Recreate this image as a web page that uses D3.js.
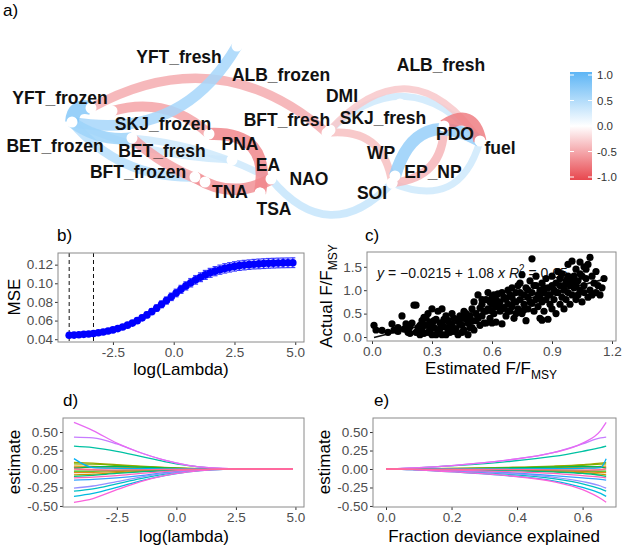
<!DOCTYPE html>
<html>
<head>
<meta charset="utf-8">
<script src="https://cdn.jsdelivr.net/npm/d3@7"></script>
<style>
body { margin: 0; background: #fff; }
text { font-family: "Liberation Sans", Arial, sans-serif; }
</style>
</head>
<body>
<script>
// ---------- données panneau a (réseau de corrélations)
const nodeNames = ["YFT_fresh","ALB_frozen","ALB_fresh","YFT_frozen","DMI","BFT_fresh","SKJ_fresh","SKJ_frozen","BET_frozen","BET_fresh","PNA","EA","NAO","BFT_frozen","TNA","TSA","WP","PDO","fuel","EP_NP","SOI"];
const nodeX = [2.37,2.09,3.98,0.91,3.30,3.27,4.00,1.12,0.72,1.32,2.32,2.71,2.60,1.95,2.05,2.60,3.92,4.44,4.80,3.95,3.92];
const nodeY = [1.84,0.96,1.52,1.22,1.00,0.97,1.26,1.19,1.08,0.92,0.70,0.51,0.37,0.53,0.48,0.37,0.47,1.04,0.89,0.54,0.47];
const labelX = [1.79,2.81,4.41,0.60,3.42,2.87,3.83,1.63,0.55,1.62,2.40,2.68,3.09,1.38,2.30,2.74,3.81,4.55,5.00,4.33,3.72];
const labelY = [1.73,1.55,1.65,1.32,1.34,1.10,1.12,1.06,0.84,0.79,0.86,0.65,0.51,0.58,0.38,0.21,0.77,0.96,0.82,0.58,0.37];

const edgeFrom = ["YFT_fresh","BET_frozen","BET_frozen","YFT_frozen","YFT_frozen","SKJ_frozen","BET_fresh","ALB_frozen","BFT_frozen","BET_fresh","EA","BFT_fresh","DMI","BFT_fresh","EP_NP","PDO","PDO","SOI","BET_frozen"];
const edgeTo   = ["BET_frozen","BFT_frozen","BET_fresh","BET_frozen","BFT_fresh","ALB_frozen","TNA","TSA","EA","EA","SOI","fuel","fuel","SOI","fuel","fuel","SOI","fuel","PNA"];
const edgeR    = [0.55,0.45,0.6,0.75,-0.45,-0.5,-0.5,-0.65,-0.6,0.3,0.35,0.3,-0.3,-0.35,0.65,-0.7,-0.4,0.3,0.3];
const edgeCurv = [-0.35,0.24,0.2,0.6,-0.35,-0.28,0.1,-0.63,0.3,-0.1,0.56,-0.53,-0.62,-0.48,-0.62,-0.74,-0.45,0.56,0.1];

const legendTicks = [1, 0.5, 0, -0.5, -1];

// ---------- panneau b (validation croisée)
const lamB = [-4.3,-4.1,-3.9,-3.7,-3.5,-3.3,-3.1,-2.9,-2.7,-2.5,-2.3,-2.1,-1.9,-1.7,-1.5,-1.3,-1.1,-0.9,-0.7,-0.5,-0.3,-0.1,0.1,0.3,0.5,0.7,0.9,1.1,1.3,1.5,1.7,1.9,2.1,2.3,2.5,2.7,2.9,3.1,3.3,3.5,3.7,3.9,4.1,4.3,4.5,4.7,4.9];
const mseB = [0.0442,0.0444,0.0448,0.0452,0.0456,0.0462,0.0469,0.0478,0.0488,0.0500,0.0514,0.0531,0.0551,0.0573,0.0599,0.0629,0.0661,0.0696,0.0734,0.0774,0.0815,0.0855,0.0896,0.0935,0.0972,0.1006,0.1037,0.1065,0.1090,0.1112,0.1130,0.1146,0.1160,0.1171,0.1181,0.1189,0.1195,0.1200,0.1205,0.1208,0.1211,0.1214,0.1216,0.1218,0.1219,0.1220,0.1221];
const seB  = [0.0012,0.0012,0.0013,0.0013,0.0014,0.0014,0.0015,0.0016,0.0017,0.0018,0.0019,0.0021,0.0022,0.0024,0.0026,0.0028,0.0030,0.0032,0.0034,0.0036,0.0038,0.0040,0.0041,0.0043,0.0044,0.0045,0.0046,0.0047,0.0048,0.0048,0.0049,0.0049,0.0050,0.0050,0.0050,0.0051,0.0051,0.0051,0.0051,0.0052,0.0052,0.0052,0.0052,0.0052,0.0052,0.0052,0.0052];
const lamMin = -4.3, lam1se = -3.3;

// ---------- panneau c (F/FMSY estimé vs réel)
const ffPairs = [[0.01,0.25],[0.02,0.15],[0.05,0.14],[0.08,0.10],[0.10,0.28],[0.11,0.15],[0.13,0.20],[0.13,0.12],[0.15,0.45],[0.16,0.17],[0.17,0.28],[0.18,0.10],[0.19,0.22],[0.19,0.08],[0.20,0.30],[0.21,0.68],[0.22,0.68],[0.22,0.10],[0.23,0.20],[0.24,0.05],[0.24,0.25],[0.25,0.35],[0.25,0.15],[0.26,0.42],[0.26,0.08],[0.27,0.25],[0.27,0.40],[0.28,0.10],[0.28,0.50],[0.29,0.32],[0.29,0.15],[0.30,0.05],[0.30,0.60],[0.30,0.25],[0.31,0.20],[0.31,0.35],[0.32,0.38],[0.32,0.05],[0.33,0.12],[0.33,0.55],[0.34,0.30],[0.34,0.18],[0.35,0.60],[0.35,0.05],[0.35,0.30],[0.36,0.22],[0.36,0.38],[0.37,0.45],[0.37,0.05],[0.38,0.15],[0.38,0.35],[0.39,0.10],[0.39,0.25],[0.40,0.28],[0.40,0.50],[0.40,0.15],[0.41,0.40],[0.41,0.12],[0.42,0.18],[0.43,0.33],[0.43,0.05],[0.44,0.45],[0.44,0.28],[0.45,0.25],[0.45,0.10],[0.45,0.40],[0.46,0.55],[0.46,0.15],[0.47,0.38],[0.47,0.50],[0.48,0.30],[0.48,0.05],[0.49,0.45],[0.49,0.20],[0.50,0.60],[0.50,0.20],[0.50,0.35],[0.51,0.75],[0.51,0.15],[0.52,0.50],[0.52,0.35],[0.53,0.90],[0.53,0.40],[0.54,0.62],[0.54,0.25],[0.55,0.45],[0.55,0.70],[0.55,0.80],[0.56,0.55],[0.56,0.30],[0.57,0.30],[0.57,0.80],[0.57,0.55],[0.58,0.95],[0.58,0.60],[0.59,0.40],[0.59,0.75],[0.60,0.70],[0.60,0.85],[0.60,0.55],[0.60,0.30],[0.61,0.50],[0.61,0.90],[0.62,0.65],[0.62,0.32],[0.62,0.80],[0.63,0.92],[0.63,0.70],[0.64,0.75],[0.64,0.55],[0.65,0.28],[0.65,0.95],[0.65,0.60],[0.66,0.62],[0.66,0.85],[0.67,0.80],[0.67,0.45],[0.68,0.70],[0.68,1.00],[0.68,0.55],[0.69,0.55],[0.69,0.90],[0.70,0.85],[0.70,0.65],[0.70,1.05],[0.71,0.40],[0.71,0.75],[0.72,0.95],[0.72,0.75],[0.72,0.50],[0.73,1.10],[0.73,0.60],[0.74,0.80],[0.74,0.95],[0.74,1.15],[0.75,1.33],[0.75,0.50],[0.76,0.90],[0.76,0.70],[0.76,0.58],[0.77,1.05],[0.77,0.35],[0.78,0.85],[0.78,0.60],[0.78,1.00],[0.79,1.20],[0.79,0.75],[0.80,1.67],[0.80,0.95],[0.80,0.72],[0.81,0.55],[0.81,1.10],[0.82,0.80],[0.82,1.30],[0.82,1.10],[0.83,0.65],[0.83,0.90],[0.84,1.00],[0.84,0.40],[0.84,0.85],[0.85,0.75],[0.85,1.15],[0.85,0.36],[0.86,0.95],[0.86,0.55],[0.86,1.05],[0.87,1.25],[0.87,0.80],[0.88,0.38],[0.88,1.05],[0.88,0.90],[0.89,0.70],[0.89,0.90],[0.90,1.30],[0.90,0.60],[0.90,1.10],[0.91,1.00],[0.91,0.80],[0.92,1.15],[0.92,0.50],[0.92,0.95],[0.93,0.95],[0.93,1.40],[0.94,0.70],[0.94,1.10],[0.94,1.25],[0.95,0.85],[0.95,1.35],[0.96,0.60],[0.96,1.00],[0.96,1.10],[0.97,1.20],[0.97,0.80],[0.98,1.55],[0.98,0.95],[0.98,1.30],[0.99,1.10],[0.99,0.70],[1.00,1.62],[1.00,0.90],[1.00,1.20],[1.01,1.30],[1.01,1.05],[1.02,0.80],[1.02,1.45],[1.02,1.10],[1.03,1.20],[1.03,0.90],[1.04,1.00],[1.04,1.60],[1.04,1.35],[1.05,0.75],[1.05,1.30],[1.06,1.10],[1.06,0.95],[1.06,1.50],[1.07,1.45],[1.07,1.25],[1.08,0.85],[1.08,1.55],[1.09,1.70],[1.09,1.00],[1.10,1.30],[1.10,0.90],[1.11,1.15],[1.12,0.95],[1.12,1.40],[1.13,1.10],[1.14,0.90],[1.15,1.05],[1.16,1.25]];
const fitA = -0.0215, fitB = 1.08, fitR2 = 0.65;
const fitRange = [0.01, 1.16];

// ---------- panneaux d et e (chemins des coefficients)
const lamGrid = [-4.3,-3.5,-2.5,-1.5,-0.5,0.5,1.5,2.5,3.5,4.9];
const devGrid = [0.672,0.655,0.60,0.51,0.37,0.21,0.085,0.022,0.004,0];
const coefPaths = [
  [0.02,0.018,0.012,0.008,0.004,0.001,0,0,0,0],
  [-0.05,-0.045,-0.035,-0.022,-0.012,-0.005,-0.001,0,0,0],
  [0.04,0.035,0.025,0.015,0.008,0.003,0.001,0,0,0],
  [-0.08,-0.07,-0.05,-0.032,-0.017,-0.007,-0.002,0,0,0],
  [0.09,0.08,0.06,0.04,0.022,0.009,0.002,0,0,0],
  [0.07,0.065,0.05,0.033,0.018,0.007,0.002,0,0,0],
  [-0.03,-0.028,-0.02,-0.013,-0.007,-0.003,-0.001,0,0,0],
  [0.01,0.03,0.035,0.025,0.014,0.006,0.001,0,0,0],
  [-0.1,-0.085,-0.06,-0.04,-0.02,-0.008,-0.002,0,0,0],
  [0.31,0.29,0.24,0.17,0.10,0.045,0.012,0.002,0,0],
  [-0.30,-0.27,-0.20,-0.13,-0.07,-0.03,-0.008,-0.001,0,0],
  [-0.37,-0.33,-0.25,-0.16,-0.09,-0.04,-0.01,-0.001,0,0],
  [0.14,0.02,0.01,0.005,0.002,0,0,0,0,0],
  [-0.15,-0.14,-0.12,-0.09,-0.05,-0.02,-0.005,0,0,0],
  [-0.26,-0.23,-0.17,-0.11,-0.06,-0.025,-0.006,0,0,0],
  [0.43,0.42,0.34,0.22,0.12,0.05,0.014,0.002,0,0],
  [0.63,0.52,0.35,0.22,0.12,0.05,0.014,0.002,0,0],
  [-0.45,-0.40,-0.28,-0.17,-0.09,-0.04,-0.01,-0.001,0,0],
  [-0.12,-0.11,-0.09,-0.06,-0.035,-0.015,-0.004,0,0,0],
  [0,-0.01,-0.015,-0.012,-0.007,-0.003,-0.001,0,0,0]
];
const coefColors = ["#F8766D","#E7851E","#D89000","#C09B00","#A3A500","#7CAE00","#39B600","#00BB4E","#00BF7D","#00C1A3","#00BFC4","#00BAE0","#00B0F6","#35A2FF","#9590FF","#C77CFF","#E76BF3","#FA62DB","#FF62BC","#FF6C91"];

//DOM:
const svg = d3.select("body").append("svg").attr("width", 625).attr("height", 549);

// ================= panneau a
const netX = d3.scaleLinear().domain([0, 6.25]).range([0, 625]);
const netY = d3.scaleLinear().domain([0, 2.3]).range([230, 0]);
const corCol = d3.scaleLinear().domain([-1, 0, 1]).range(["#E8474E", "#ffffff", "#5DB5F5"]);
const corW = d3.scaleLinear().domain([0, 1]).range([2.5, 17.5]);

const idx = name => nodeNames.indexOf(name);
const edges = edgeFrom.map((f, i) => ({f: idx(f), t: idx(edgeTo[i]), r: edgeR[i], k: edgeCurv[i]}))
  .sort((a, b) => Math.abs(a.r) - Math.abs(b.r));

svg.append("g").selectAll("path").data(edges).enter().append("path")
  .attr("d", e => {
    const x0 = netX(nodeX[e.f]), y0 = netY(nodeY[e.f]);
    const x2 = netX(nodeX[e.t]), y2 = netY(nodeY[e.t]);
    const dx = x2 - x0, dy = y2 - y0;
    const cx = (x0 + x2) / 2 - e.k * dy, cy = (y0 + y2) / 2 + e.k * dx;
    return `M${x0},${y0}Q${cx},${cy} ${x2},${y2}`;
  })
  .attr("fill", "none")
  .attr("stroke", e => corCol(e.r))
  .attr("stroke-width", e => corW(Math.abs(e.r)))
  .attr("stroke-opacity", 0.85);

svg.append("g").selectAll("circle").data(nodeNames).enter().append("circle")
  .attr("cx", (d, i) => netX(nodeX[i])).attr("cy", (d, i) => netY(nodeY[i]))
  .attr("r", 5.5).attr("fill", "#fff");

svg.append("g").selectAll("text").data(nodeNames).enter().append("text")
  .text(d => d)
  .attr("x", (d, i) => netX(labelX[i])).attr("y", (d, i) => netY(labelY[i]))
  .attr("dy", "0.36em").attr("text-anchor", "middle")
  .attr("font-size", 17.5).attr("font-weight", "bold").attr("fill", "#111");

svg.append("text").text("a)").attr("x", 3).attr("y", 16).attr("font-size", 17);

// légende
const legY = d3.scaleLinear().domain([-1, 1]).range([177, 75]);
const grad = svg.append("defs").append("linearGradient").attr("id", "corgrad")
  .attr("x1", 0).attr("y1", 1).attr("x2", 0).attr("y2", 0);
[-1, -0.5, 0, 0.5, 1].forEach(v => {
  grad.append("stop").attr("offset", (v + 1) / 2).attr("stop-color", corCol(v));
});
svg.append("rect").attr("x", 570).attr("y", legY(1) - 3).attr("width", 22)
  .attr("height", legY(-1) - legY(1) + 6).attr("fill", "url(#corgrad)");
legendTicks.forEach(v => {
  svg.append("line").attr("x1", 570).attr("x2", 574).attr("y1", legY(v)).attr("y2", legY(v)).attr("stroke", "#fff");
  svg.append("line").attr("x1", 588).attr("x2", 592).attr("y1", legY(v)).attr("y2", legY(v)).attr("stroke", "#fff");
  svg.append("text").text(v.toFixed(1)).attr("x", 597).attr("y", legY(v)).attr("dy", "0.35em")
    .attr("font-size", 11.5).attr("fill", "#333");
});

// ================= helper axes façon ggplot
function axes(x, y, xt, yt, fx, fy) {
  const [x0, x1] = x.range(), [yb, yt0] = y.range();
  const gx = svg.append("g").attr("transform", `translate(0,${yb})`)
    .call(d3.axisBottom(x).tickValues(xt).tickSize(3).tickPadding(2).tickFormat(fx));
  const gy = svg.append("g").attr("transform", `translate(${x0},0)`)
    .call(d3.axisLeft(y).tickValues(yt).tickSize(3).tickPadding(2).tickFormat(fy));
  [gx, gy].forEach(g => {
    g.select(".domain").remove();
    g.selectAll("line").attr("stroke", "#333");
    g.selectAll("text").attr("font-size", 13.5).attr("fill", "#4D4D4D")
      .style("font-family", "'Liberation Sans', Arial, sans-serif");
  });
  svg.append("rect").attr("x", x0).attr("y", yt0).attr("width", x1 - x0).attr("height", yb - yt0)
    .attr("fill", "none").attr("stroke", "#8a8a8a").attr("stroke-width", 1);
}

// ================= panneau b
const bX = d3.scaleLinear().domain([-4.76, 5.36]).range([58, 304]);
const bY = d3.scaleLinear().domain([0.037, 0.1325]).range([342, 253]);

svg.append("g").selectAll("line").data([lamMin, lam1se]).enter().append("line")
  .attr("x1", d => bX(d)).attr("x2", d => bX(d)).attr("y1", 253).attr("y2", 342)
  .attr("stroke", "#111").attr("stroke-dasharray", "4,3");

const bars = svg.append("g").attr("stroke", "#1f1fff").attr("stroke-opacity", 0.85).attr("stroke-width", 1.2);
lamB.forEach((l, i) => {
  const x = bX(l), ylo = bY(mseB[i] - seB[i]), yhi = bY(mseB[i] + seB[i]);
  bars.append("line").attr("x1", x).attr("x2", x).attr("y1", ylo).attr("y2", yhi);
  bars.append("line").attr("x1", x - 2.5).attr("x2", x + 2.5).attr("y1", ylo).attr("y2", ylo);
  bars.append("line").attr("x1", x - 2.5).attr("x2", x + 2.5).attr("y1", yhi).attr("y2", yhi);
});
svg.append("g").selectAll("circle").data(lamB).enter().append("circle")
  .attr("cx", d => bX(d)).attr("cy", (d, i) => bY(mseB[i])).attr("r", 3.8).attr("fill", "#0000ff");

axes(bX, bY, [-2.5, 0, 2.5, 5], [0.04, 0.06, 0.08, 0.10, 0.12], d => d.toFixed(1), d => d.toFixed(2));
svg.append("text").text("b)").attr("x", 57).attr("y", 241).attr("font-size", 17);
svg.append("text").text("log(Lambda)").attr("x", 181).attr("y", 375).attr("text-anchor", "middle").attr("font-size", 17);
svg.append("text").text("MSE").attr("transform", "translate(20,297) rotate(-90)").attr("text-anchor", "middle").attr("font-size", 17);

// ================= panneau c
const cX = d3.scaleLinear().domain([-0.025, 1.22]).range([367, 616]);
const cY = d3.scaleLinear().domain([-0.085, 1.816]).range([341, 252]);

const eq = svg.append("text").attr("x", cX(0.025)).attr("y", cY(1.27)).attr("font-size", 14).attr("fill", "#111");
eq.append("tspan").text("y").attr("font-style", "italic");
eq.append("tspan").text(" = \u2212" + Math.abs(fitA) + " + " + fitB + " ");
eq.append("tspan").text("x").attr("font-style", "italic");
eq.append("tspan").text("   R").attr("font-style", "italic");
eq.append("tspan").text("2").attr("font-size", 10).attr("dy", -6);
eq.append("tspan").text(" = " + fitR2).attr("dy", 6);

svg.append("line")
  .attr("x1", cX(fitRange[0])).attr("y1", cY(fitA + fitB * fitRange[0]))
  .attr("x2", cX(fitRange[1])).attr("y2", cY(fitA + fitB * fitRange[1]))
  .attr("stroke", "#111").attr("stroke-width", 1.6);

svg.append("g").selectAll("circle").data(ffPairs).enter().append("circle")
  .attr("cx", d => cX(d[0])).attr("cy", d => cY(d[1])).attr("r", 3.6).attr("fill", "#000");

axes(cX, cY, [0, 0.3, 0.6, 0.9, 1.2], [0, 0.5, 1, 1.5], d => d.toFixed(1), d => d.toFixed(1));
svg.append("text").text("c)").attr("x", 365).attr("y", 241).attr("font-size", 17);
const cxl = svg.append("text").attr("x", 491).attr("y", 374).attr("text-anchor", "middle").attr("font-size", 17);
cxl.append("tspan").text("Estimated F/F");
cxl.append("tspan").text("MSY").attr("font-size", 12).attr("dy", 5);
const cyl = svg.append("text").attr("transform", "translate(332,296) rotate(-90)").attr("text-anchor", "middle").attr("font-size", 17);
cyl.append("tspan").text("Actual F/F");
cyl.append("tspan").text("MSY").attr("font-size", 12).attr("dy", 5);

// ================= panneau d
const dX = d3.scaleLinear().domain([-4.76, 5.36]).range([63, 304]);
const dY = d3.scaleLinear().domain([-0.514, 0.69]).range([507, 418]);
const lineD = d3.line().x(p => dX(p[0])).y(p => dY(p[1])).curve(d3.curveMonotoneX);
svg.append("g").selectAll("path").data(coefPaths).enter().append("path")
  .attr("d", c => lineD(c.map((v, i) => [lamGrid[i], v])))
  .attr("fill", "none").attr("stroke", (c, i) => coefColors[i]).attr("stroke-width", 1.3);
axes(dX, dY, [-2.5, 0, 2.5, 5], [-0.5, -0.25, 0, 0.25, 0.5], d => d.toFixed(1), d => d.toFixed(2));
svg.append("text").text("d)").attr("x", 63).attr("y", 406).attr("font-size", 17);
svg.append("text").text("log(lambda)").attr("x", 184).attr("y", 542).attr("text-anchor", "middle").attr("font-size", 17);
svg.append("text").text("estimate").attr("transform", "translate(20,462) rotate(-90)").attr("text-anchor", "middle").attr("font-size", 17);

// ================= panneau e
const eX = d3.scaleLinear().domain([-0.0397, 0.702]).range([373, 616]);
const eY = d3.scaleLinear().domain([-0.514, 0.69]).range([507, 418]);
const lineE = d3.line().x(p => eX(p[0])).y(p => eY(p[1])).curve(d3.curveMonotoneX);
svg.append("g").selectAll("path").data(coefPaths).enter().append("path")
  .attr("d", c => lineE(c.map((v, i) => [devGrid[i], v]).sort((a, b) => a[0] - b[0])))
  .attr("fill", "none").attr("stroke", (c, i) => coefColors[i]).attr("stroke-width", 1.3);
axes(eX, eY, [0, 0.2, 0.4, 0.6], [-0.5, -0.25, 0, 0.25, 0.5], d => d.toFixed(1), d => d.toFixed(2));
svg.append("text").text("e)").attr("x", 374).attr("y", 406).attr("font-size", 17);
svg.append("text").text("Fraction deviance explained").attr("x", 494).attr("y", 542).attr("text-anchor", "middle").attr("font-size", 17);
svg.append("text").text("estimate").attr("transform", "translate(330,462) rotate(-90)").attr("text-anchor", "middle").attr("font-size", 17);
</script>
</body>
</html>
